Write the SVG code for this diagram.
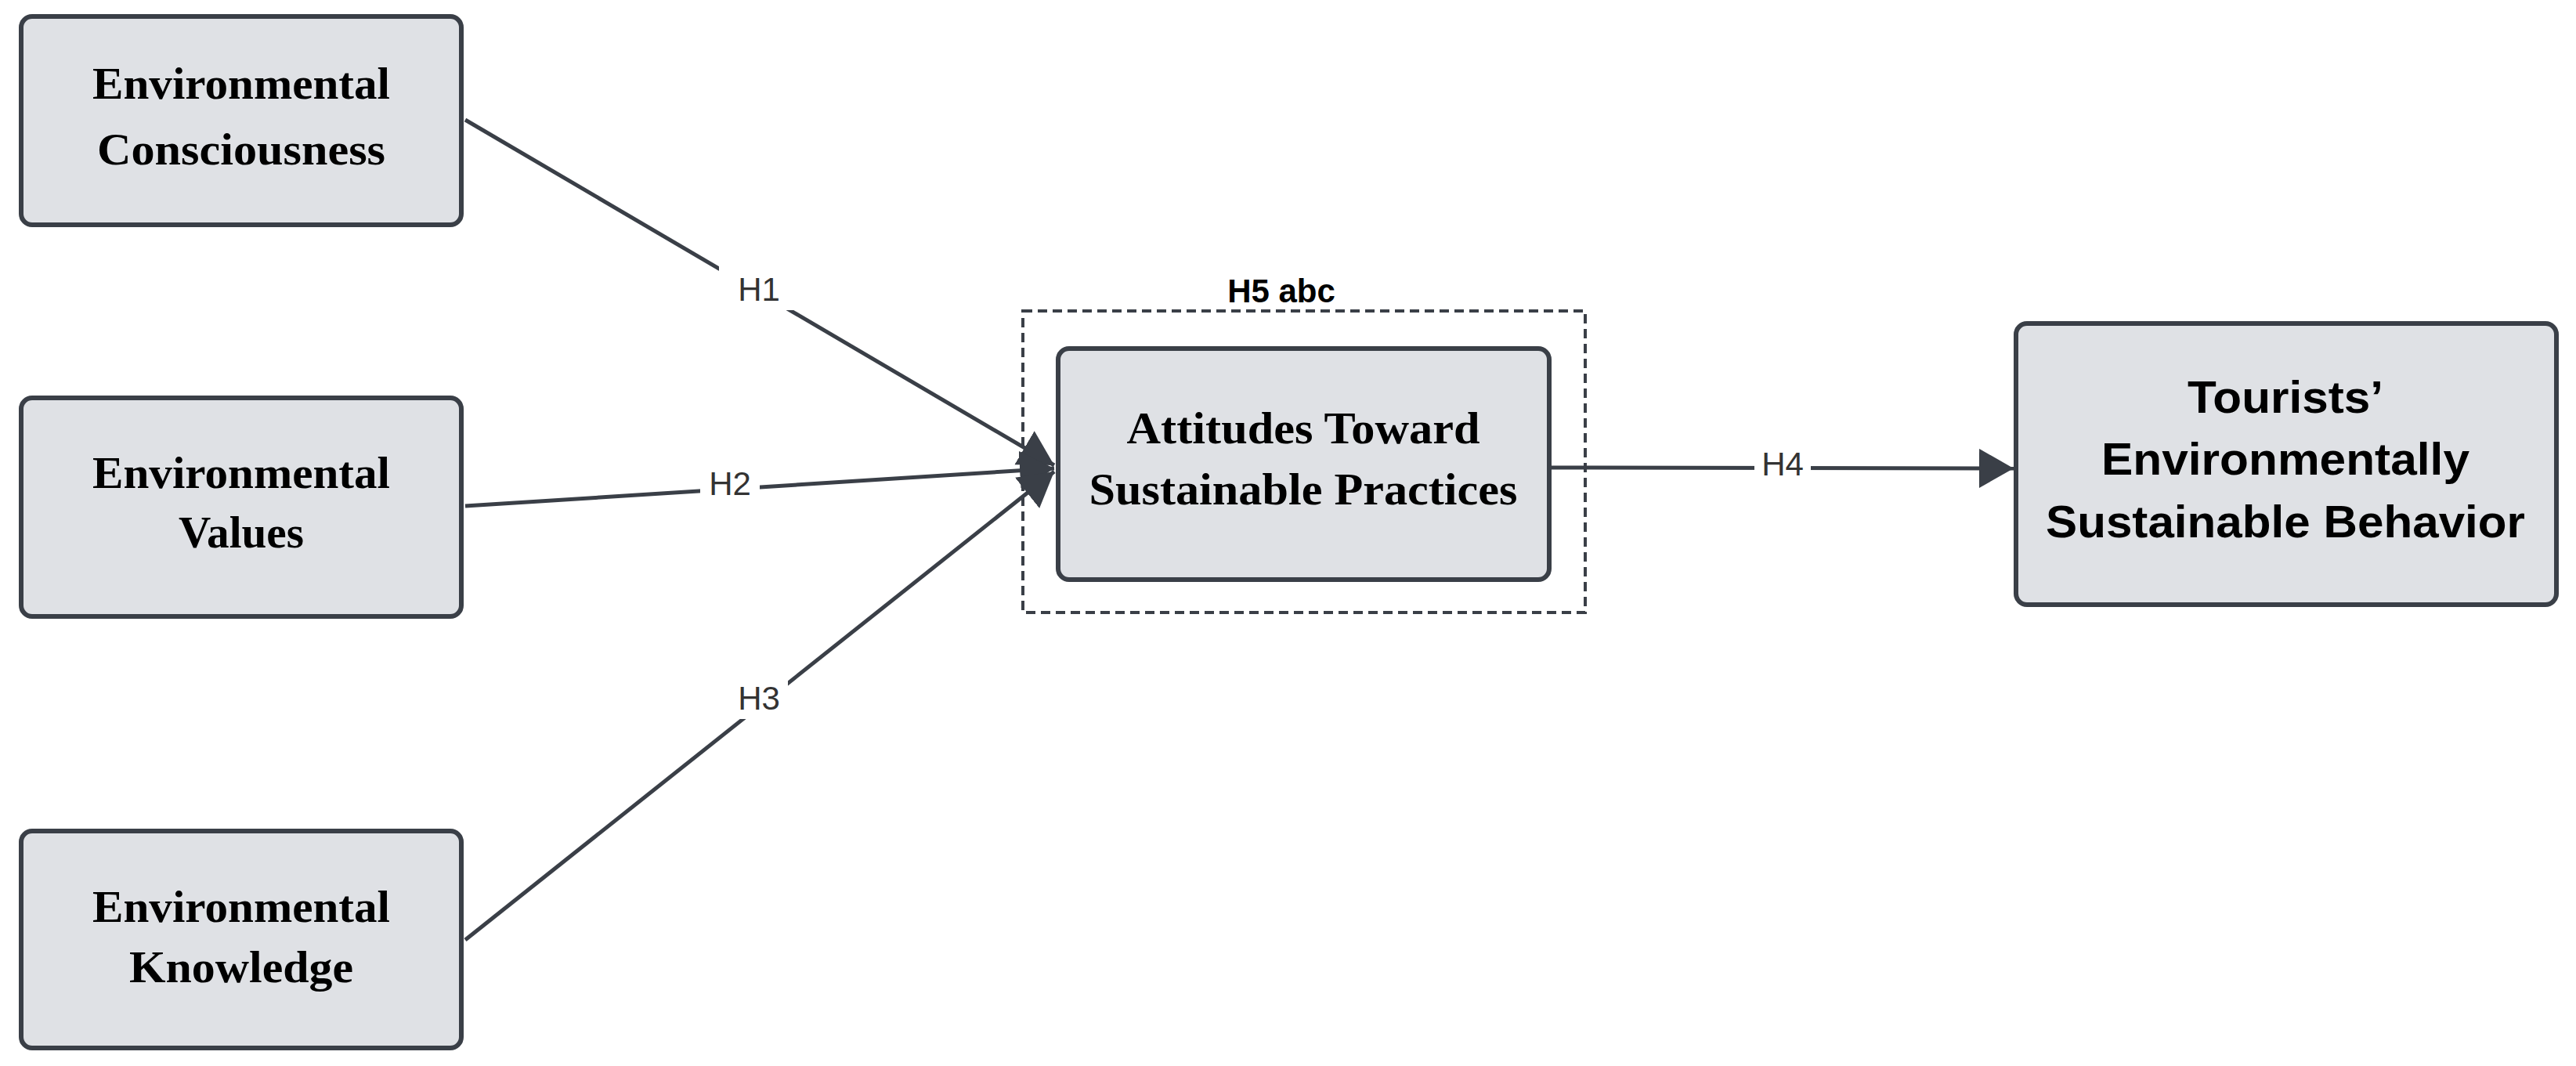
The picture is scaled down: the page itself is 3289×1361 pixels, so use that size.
<svg xmlns="http://www.w3.org/2000/svg" width="3289" height="1361" viewBox="0 0 3289 1361">
<defs>
<style>
.box{fill:#dfe1e5;stroke:#3a3f47;stroke-width:6}
.serif{font-family:"Liberation Serif",serif;font-weight:bold;font-size:58px;fill:#000;text-anchor:middle}
.sans{font-family:"Liberation Sans",sans-serif;font-weight:bold;font-size:58px;fill:#000;text-anchor:middle}
.edge{stroke:#3a3f47;stroke-width:5;fill:none}
.lbl{font-family:"Liberation Sans",sans-serif;font-size:42px;fill:#333;text-anchor:middle}
</style>
<marker id="ah" markerUnits="userSpaceOnUse" markerWidth="50" markerHeight="56" refX="44" refY="25" orient="auto" viewBox="0 0 50 56">
<path d="M0,0 L44,25 L0,50 Z" fill="#3a3f47"/>
</marker>
</defs>
<g id="connectors">
<line class="edge" x1="594" y1="153" x2="1346" y2="594" marker-end="url(#ah)"/>
<line class="edge" x1="594" y1="646" x2="1346" y2="598" marker-end="url(#ah)"/>
<line class="edge" x1="594" y1="1200" x2="1346" y2="602" marker-end="url(#ah)"/>
<line class="edge" x1="1978" y1="597" x2="2571" y2="598" marker-end="url(#ah)"/>
<rect x="918" y="340" width="100" height="56" fill="#fff"/>
<rect x="894" y="590" width="76" height="56" fill="#fff"/>
<rect x="930" y="862" width="76" height="56" fill="#fff"/>
<rect x="2240" y="565" width="72" height="56" fill="#fff"/>
<text class="lbl" x="969" y="384">H1</text>
<text class="lbl" x="932" y="632">H2</text>
<text class="lbl" x="969" y="906">H3</text>
<text class="lbl" x="2276" y="607">H4</text>
</g>
<g id="group-h5">
<rect x="1306" y="397" width="718" height="385" fill="none" stroke="#3a3f47" stroke-width="4" stroke-dasharray="12,7"/>
<text x="1636" y="386" font-family="Liberation Sans, sans-serif" font-weight="bold" font-size="42" text-anchor="middle" fill="#000">H5 abc</text>
</g>
<g id="n1"><rect class="box" x="27" y="21" width="562" height="266" rx="14"/>
<text class="serif" x="308" y="126" textLength="380" lengthAdjust="spacingAndGlyphs">Environmental</text>
<text class="serif" x="308" y="210" textLength="368" lengthAdjust="spacingAndGlyphs">Consciousness</text></g>
<g id="n2"><rect class="box" x="27" y="508" width="562" height="279" rx="14"/>
<text class="serif" x="308" y="623" textLength="380" lengthAdjust="spacingAndGlyphs">Environmental</text>
<text class="serif" x="308" y="699" textLength="160" lengthAdjust="spacingAndGlyphs">Values</text></g>
<g id="n3"><rect class="box" x="27" y="1061" width="562" height="277" rx="14"/>
<text class="serif" x="308" y="1177" textLength="380" lengthAdjust="spacingAndGlyphs">Environmental</text>
<text class="serif" x="308" y="1254" textLength="286" lengthAdjust="spacingAndGlyphs">Knowledge</text></g>
<g id="n4"><rect class="box" x="1351" y="445" width="627" height="295" rx="14"/>
<text class="serif" x="1664" y="566" textLength="451" lengthAdjust="spacingAndGlyphs">Attitudes Toward</text>
<text class="serif" x="1664" y="644" textLength="547" lengthAdjust="spacingAndGlyphs">Sustainable Practices</text></g>
<g id="n5"><rect class="box" x="2574" y="413" width="690" height="359" rx="14"/>
<text class="sans" x="2918" y="527" textLength="250" lengthAdjust="spacingAndGlyphs">Tourists’</text>
<text class="sans" x="2918" y="606" textLength="470" lengthAdjust="spacingAndGlyphs">Environmentally</text>
<text class="sans" x="2918" y="686" textLength="612" lengthAdjust="spacingAndGlyphs">Sustainable Behavior</text></g>
</svg>
